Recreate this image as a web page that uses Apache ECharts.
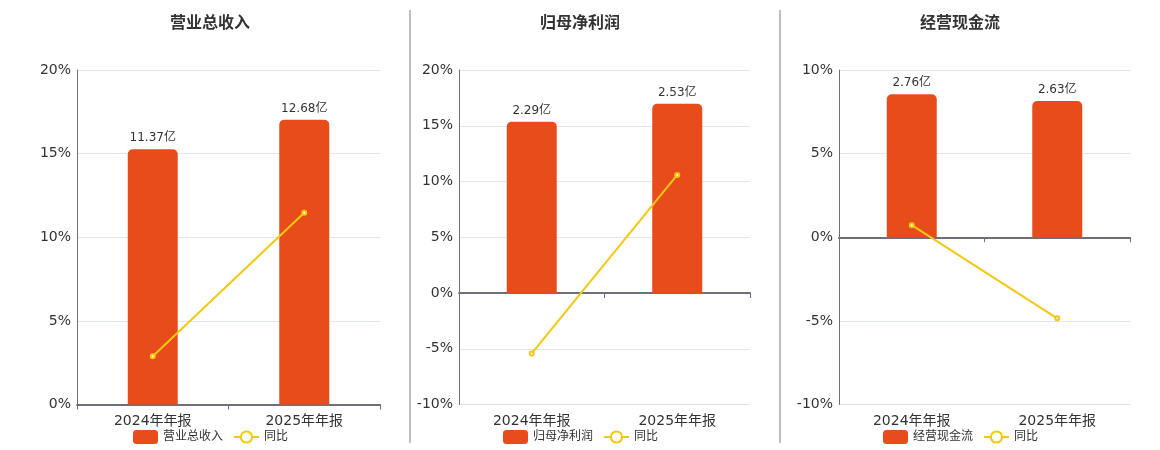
<!DOCTYPE html>
<html>
<head>
<meta charset="utf-8">
<script src="https://cdn.jsdelivr.net/npm/echarts@6/dist/echarts.min.js"></script>
<style>
  html, body { margin: 0; padding: 0; background: #fff; }
  #chart { width: 1160px; height: 450px; }
</style>
</head>
<body>
<div id="chart"></div>
<script>
// data
var categories = ['2024年年报', '2025年年报'];
var titles = ['营业总收入', '归母净利润', '经营现金流'];
var amounts = [
    [11.37, 12.68],   // 营业总收入 (亿)
    [2.29, 2.53],     // 归母净利润 (亿)
    [2.76, 2.63]      // 经营现金流 (亿)
];
var yoy = [
    [2.89, 11.47],
    [-5.42, 10.59],
    [0.72, -4.85]
];
var pctMin = [0, -10, -10];
var pctMax = [20, 20, 10];
var amountMin = [0, -1.49, -3.23];
var amountMax = [14.9, 2.98, 3.23];

var FONT = 'DejaVu Sans, Noto Sans CJK SC, sans-serif';
var BAR = '#E84C1B';
var LINE = '#F2C811';

var gridLeft = [77, 459, 839];
var gridWidth = [303, 291, 291];
var centers = [205, 575, 955];
var legendLeft = [133, 503, 883];

var chart = echarts.init(document.getElementById('chart'));

var option = {
    animation: false,
    textStyle: { fontFamily: FONT },
    title: [], grid: [], xAxis: [], yAxis: [], series: [], legend: [],
    graphic: [410, 780].map(function (x) {
        return {
            type: 'line',
            shape: { x1: x, y1: 10, x2: x, y2: 443 },
            style: { stroke: '#aaa', lineWidth: 1.5 }
        };
    })
};

titles.forEach(function (name, i) {
    option.title.push({
        text: name, left: centers[i], top: 11, textAlign: 'center',
        textStyle: { fontSize: 16, fontWeight: 'bold', color: '#333', fontFamily: FONT }
    });
    option.grid.push({ left: gridLeft[i], width: gridWidth[i], top: 70, bottom: 45.5 });

    // axis line at zero with ticks
    option.xAxis.push({
        type: 'category', gridIndex: i, data: categories,
        axisLine: { onZero: true, onZeroAxisIndex: i * 2, lineStyle: { color: '#6E7079', width: 2 } },
        axisTick: { show: true, length: 5, lineStyle: { color: '#6E7079' } },
        axisLabel: { show: false }
    });
    // labels at the bottom
    option.xAxis.push({
        type: 'category', gridIndex: i, data: categories, position: 'bottom',
        axisLine: { show: false, onZero: false }, axisTick: { show: false },
        axisLabel: { fontSize: 14, color: '#333', margin: 10, fontFamily: FONT }
    });

    option.yAxis.push({
        type: 'value', gridIndex: i, min: pctMin[i], max: pctMax[i], interval: 5,
        axisLine: { show: true, lineStyle: { color: '#6E7079' } },
        axisTick: { show: false },
        axisLabel: { formatter: '{value}%', fontSize: 14, color: '#333', margin: 6, fontFamily: FONT },
        splitLine: { lineStyle: { color: '#E0E6F1' } }
    });
    option.yAxis.push({
        type: 'value', gridIndex: i, min: amountMin[i], max: amountMax[i], show: false,
        splitLine: { show: false }
    });

    option.series.push({
        name: name, type: 'bar', xAxisIndex: i * 2, yAxisIndex: i * 2 + 1,
        data: amounts[i], barWidth: 50,
        itemStyle: { color: BAR, borderRadius: [5, 5, 0, 0] },
        label: {
            show: true, position: 'top', fontSize: 12, color: '#333', fontFamily: FONT,
            formatter: function (p) { return p.value.toFixed(2) + '亿'; }
        }
    });
    option.series.push({
        name: '同比', type: 'line', xAxisIndex: i * 2, yAxisIndex: i * 2,
        data: yoy[i], symbol: 'emptyCircle', symbolSize: 4,
        lineStyle: { color: LINE, width: 2 },
        itemStyle: { color: LINE, borderWidth: 2 }
    });

    option.legend.push({
        data: [name, '同比'], left: legendLeft[i], top: 430, padding: 0,
        itemWidth: 25, itemHeight: 14, itemGap: 10,
        textStyle: { fontSize: 12, color: '#333', fontFamily: FONT }
    });
});

chart.setOption(option);
</script>
</body>
</html>
